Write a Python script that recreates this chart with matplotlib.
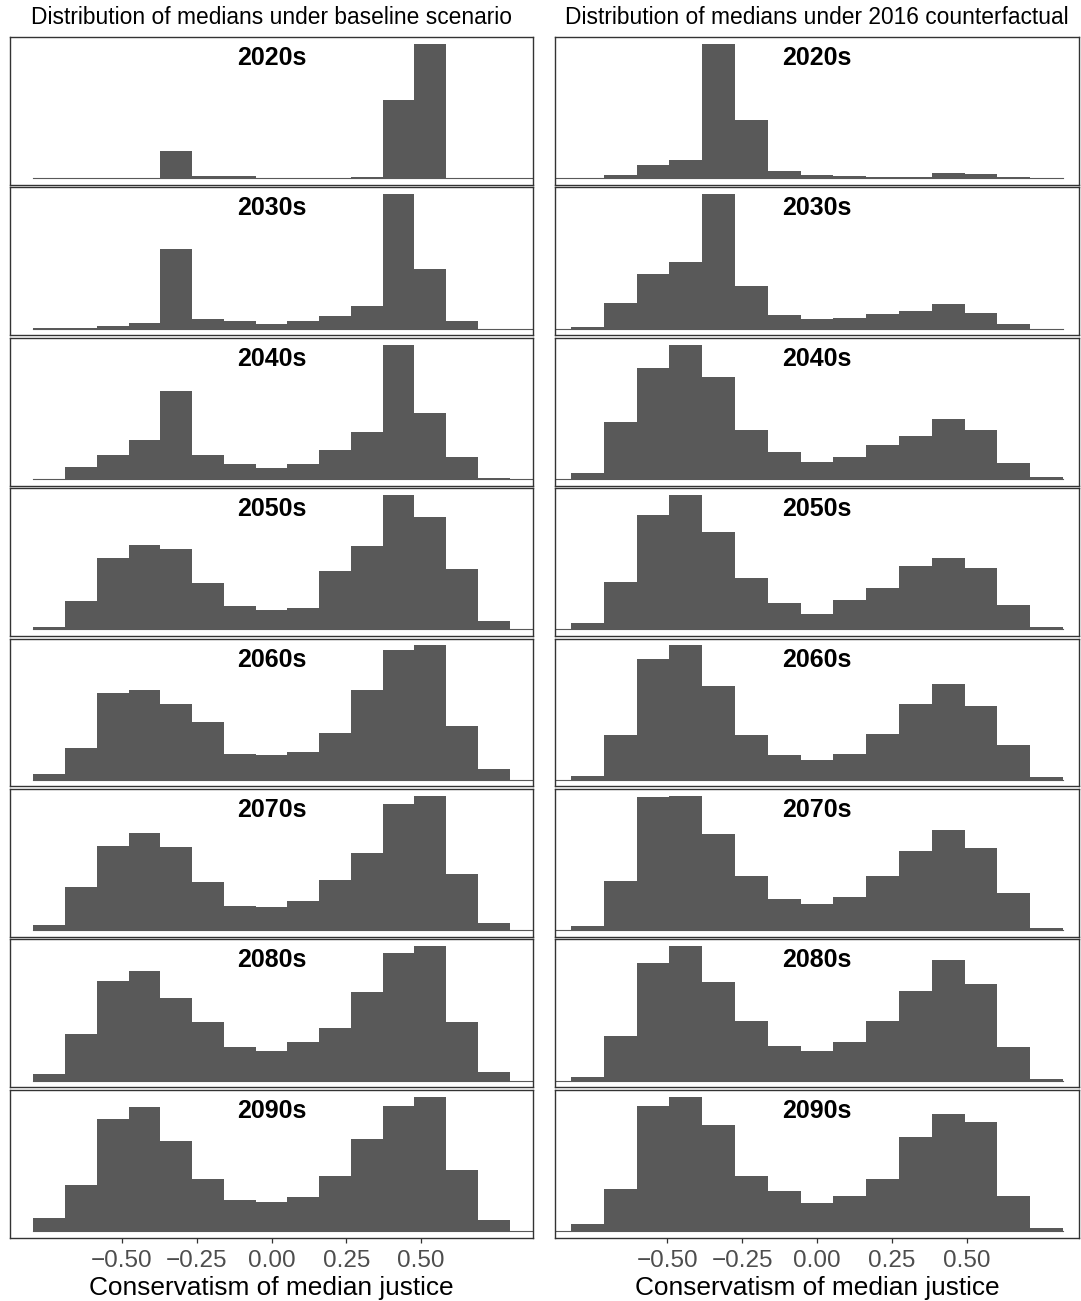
import numpy as np
import matplotlib
matplotlib.use("Agg")
import matplotlib.pyplot as plt

plt.rcParams['font.family'] = ['Liberation Sans', 'DejaVu Sans']

#-------------------------------------------------------------------------------
# histogram counts of the simulated median, 15 bins per decade
decades = ['2020s', '2030s', '2040s', '2050s', '2060s', '2070s', '2080s', '2090s']

baseline_counts = [
    [0, 0, 0, 0, 81, 7, 7, 0, 0, 0, 2, 234, 402, 0, 0],
    [1, 3, 7, 17, 238, 28, 22, 13, 23, 37, 67, 403, 178, 23, 0],
    [0, 35, 71, 116, 263, 71, 44, 32, 44, 86, 140, 404, 197, 65, 2],
    [7, 85, 214, 253, 241, 139, 70, 58, 64, 175, 250, 403, 337, 181, 25],
    [16, 94, 259, 268, 226, 172, 76, 73, 82, 139, 268, 388, 403, 160, 31],
    [14, 131, 254, 293, 251, 146, 74, 71, 89, 152, 233, 380, 404, 170, 23],
    [21, 138, 297, 327, 246, 174, 99, 87, 114, 156, 264, 381, 402, 174, 27],
    [38, 138, 339, 374, 272, 158, 92, 86, 101, 165, 276, 378, 405, 185, 32],
]

counterfactual_counts = [
    [0, 10, 40, 54, 402, 174, 20, 9, 5, 4, 4, 15, 12, 3, 0],
    [4, 76, 163, 199, 403, 127, 40, 28, 31, 43, 52, 73, 46, 15, 0],
    [19, 172, 334, 406, 307, 148, 82, 52, 67, 103, 130, 181, 148, 49, 6],
    [19, 142, 343, 403, 292, 154, 79, 46, 88, 124, 190, 214, 184, 73, 6],
    [10, 133, 361, 403, 280, 133, 73, 58, 76, 136, 226, 286, 220, 103, 9],
    [11, 149, 401, 404, 290, 164, 95, 80, 101, 164, 239, 302, 248, 113, 7],
    [12, 132, 351, 402, 294, 177, 102, 87, 114, 177, 267, 360, 288, 99, 5],
    [20, 126, 378, 405, 318, 165, 122, 84, 104, 158, 282, 353, 329, 104, 8],
]

# range covered by the bins in each scenario
baseline_range = (-0.797, 0.797)
counterfactual_range = (-0.822, 0.822)

col_titles = ['Distribution of medians under baseline scenario',
              'Distribution of medians under 2016 counterfactual']
ticks = [-0.5, -0.25, 0.0, 0.25, 0.5]
tick_labels = ['\u22120.50', '\u22120.25', '0.00', '0.25', '0.50']
xlab = 'Conservatism of median justice'

#-------------------------------------------------------------------------------
W, H = 1081, 1301
fig = plt.figure(figsize=(W / 100, H / 100), dpi=100)

bar_col = '#595959'
edge_col = '#333333'
xlim = (-0.875, 0.875)

top_px, bot_px, gap_px = 37.0, 1237.7, 2.6
h_px = (bot_px - top_px - 7 * gap_px) / 8
cols_px = [(10, 533), (555, 1079)]

for c, (counts, rng) in enumerate([(baseline_counts, baseline_range),
                                     (counterfactual_counts, counterfactual_range)]):
    x0, x1 = cols_px[c]
    edges = np.linspace(rng[0], rng[1], 16)
    for r, dec in enumerate(decades):
        y_top = top_px + r * (h_px + gap_px)
        ax = fig.add_axes([x0 / W, 1 - (y_top + h_px) / H, (x1 - x0) / W, h_px / H])
        vals = np.array(counts[r], dtype=float)
        ax.bar(edges[:-1], vals, width=np.diff(edges), align='edge',
               color=bar_col, linewidth=0)
        # zero line along the bottom of the bins
        if c == 0:
            ax.plot([edges[0], xlim[1]], [0, 0], color=bar_col, lw=0.8)
        else:
            ax.plot([xlim[0], edges[-1]], [0, 0], color=bar_col, lw=0.8)
        vmax = vals.max()
        ax.set_ylim(-0.05 * vmax, 1.05 * vmax)
        ax.set_xlim(*xlim)
        ax.set_yticks([])
        for sp in ax.spines.values():
            sp.set_color(edge_col)
            sp.set_linewidth(1.0)
        ax.text(0.5, 0.858, dec, transform=ax.transAxes, ha='center', va='center',
                fontsize=18, fontweight='bold', color='black')
        if r == len(decades) - 1:
            ax.set_xticks(ticks)
            ax.set_xticklabels(tick_labels)
            ax.tick_params(axis='x', length=3.5, width=0.9, color=edge_col,
                           labelsize=17.5, labelcolor='#4D4D4D', pad=5)
            ax.set_xlabel(xlab, fontsize=18.9, labelpad=3.5)
        else:
            ax.set_xticks([])
    fig.text((x0 + x1) / 2 / W, 1 - 18 / H, col_titles[c], ha='center', va='center',
             fontsize=16.4)

fig.savefig('out.png', dpi=100, facecolor='white')
